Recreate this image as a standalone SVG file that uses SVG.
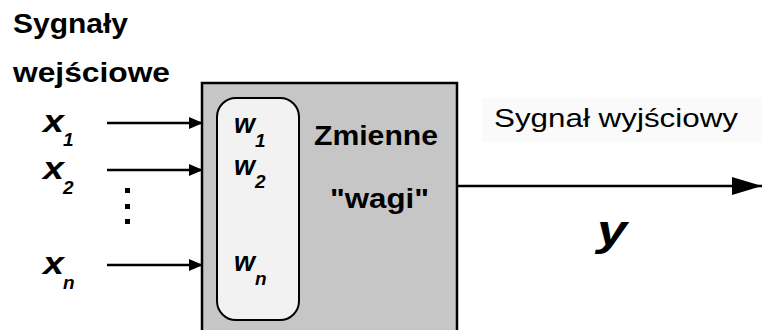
<svg xmlns="http://www.w3.org/2000/svg" width="762" height="330" viewBox="0 0 762 330">
<defs>
<style>
text{font-family:"Liberation Sans",Arial,sans-serif;fill:#000}
.b{font-weight:bold}
.bi{font-weight:bold;font-style:italic}
.var{font-size:32px}
.sub{font-size:19px}
.wv{font-size:28px}
.ttl{font-size:28px;font-weight:bold}
.conn{stroke:#000;stroke-width:2.5;fill:none}
</style>
<marker id="ah" viewBox="0 0 14 12" refX="14" refY="6" markerWidth="14" markerHeight="12" markerUnits="userSpaceOnUse" orient="auto">
<path d="M0,0 L14,6 L0,12 Z" fill="#000"/>
</marker>
<marker id="ahBig" viewBox="0 0 30 18" refX="30" refY="9" markerWidth="30" markerHeight="18" markerUnits="userSpaceOnUse" orient="auto">
<path d="M0,0 L30,9 L0,18 Z" fill="#000"/>
</marker>
</defs>
<rect width="762" height="330" fill="#fff"/>

<g id="title">
<text class="ttl" x="13" y="33" textLength="115" lengthAdjust="spacingAndGlyphs">Sygnały</text>
<text class="ttl" x="13" y="82" textLength="157" lengthAdjust="spacingAndGlyphs">wejściowe</text>
</g>

<g id="neuron">
<rect x="202" y="83" width="255" height="262" fill="#c6c6c6" stroke="#000" stroke-width="2.5"/>
<text class="b" x="314" y="145" font-size="27" textLength="124" lengthAdjust="spacingAndGlyphs">Zmienne</text>
<text class="b" x="330" y="208" font-size="27" textLength="99" lengthAdjust="spacingAndGlyphs">"wagi"</text>
</g>

<g id="weights">
<rect x="217" y="98" width="82" height="222" rx="19" ry="19" fill="#f2f2f2" stroke="#000" stroke-width="2"/>
<text class="bi wv" x="234" y="133" textLength="21" lengthAdjust="spacingAndGlyphs">w</text>
<text class="bi sub" x="255" y="147">1</text>
<text class="bi wv" x="234" y="175" textLength="21" lengthAdjust="spacingAndGlyphs">w</text>
<text class="bi sub" x="255" y="188">2</text>
<text class="bi wv" x="234" y="271" textLength="21" lengthAdjust="spacingAndGlyphs">w</text>
<text class="bi sub" x="255" y="285">n</text>
</g>

<g id="inputs">
<text class="bi var" x="43" y="132" textLength="21" lengthAdjust="spacingAndGlyphs">x</text>
<text class="bi sub" x="63" y="146">1</text>
<text class="bi var" x="43" y="179" textLength="21" lengthAdjust="spacingAndGlyphs">x</text>
<text class="bi sub" x="63" y="194">2</text>
<text class="bi var" x="43" y="274" textLength="21" lengthAdjust="spacingAndGlyphs">x</text>
<text class="bi sub" x="63" y="289">n</text>
<rect x="125" y="188" width="5" height="5" fill="#000"/>
<rect x="125" y="204" width="5" height="5" fill="#000"/>
<rect x="125" y="219" width="5" height="5" fill="#000"/>
</g>

<g id="output">
<rect x="482" y="98" width="280" height="44" fill="#fafafa"/>
<text x="494" y="127" font-size="26" textLength="244" lengthAdjust="spacingAndGlyphs">Sygnał wyjściowy</text>
<text class="bi" x="597" y="245" font-size="42" textLength="30" lengthAdjust="spacingAndGlyphs">y</text>
</g>

<g id="connectors">
<line class="conn" x1="107" y1="123" x2="203" y2="123" marker-end="url(#ah)"/>
<line class="conn" x1="107" y1="170" x2="203" y2="170" marker-end="url(#ah)"/>
<line class="conn" x1="107" y1="265" x2="203" y2="265" marker-end="url(#ah)"/>
<line class="conn" x1="457" y1="186" x2="762" y2="186" marker-end="url(#ahBig)"/>
</g>
</svg>
